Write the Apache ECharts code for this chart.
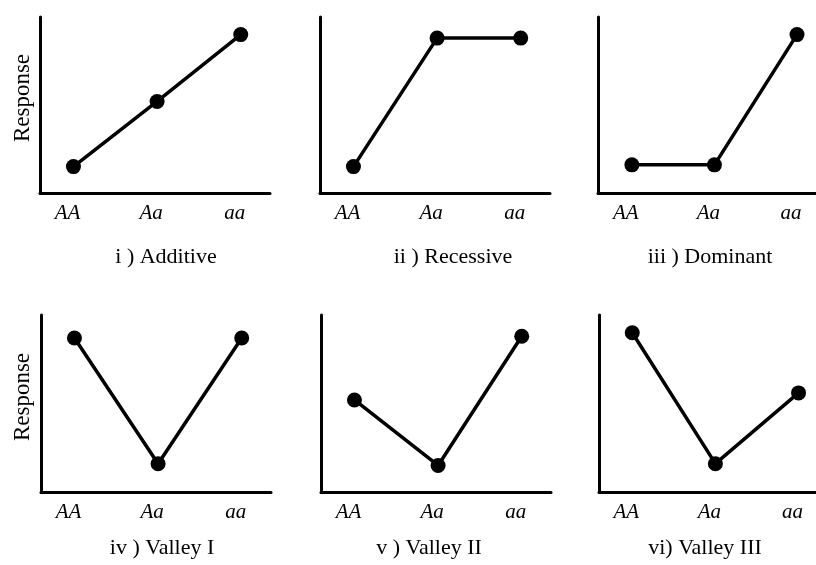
<!DOCTYPE html>
<html>
<head>
<meta charset="utf-8">
<script src="https://cdn.jsdelivr.net/npm/echarts@6/dist/echarts.min.js"></script>
<style>html,body{margin:0;padding:0;background:#fff;}#chart{width:816px;height:565px;}</style>
</head>
<body>
<div id="chart"></div>
<script>
const categories = ['AA', 'Aa', 'aa'];
const additive = [1.5, 5.2, 9.0];
const recessive = [1.5, 8.8, 8.8];
const dominant = [1.6, 1.6, 9.0];
const valleyI = [8.7, 1.6, 8.7];
const valleyII = [5.2, 1.5, 8.8];
const valleyIII = [9.0, 1.6, 5.6];
const panelTitles = ['i ) Additive', 'ii ) Recessive', 'iii ) Dominant', 'iv ) Valley I', 'v ) Valley II', 'vi) Valley III'];
const yAxisName = 'Response';

const seriesData = [additive, recessive, dominant, valleyI, valleyII, valleyIII];

// layout
const gridLefts = [40, 320, 598, 41, 321, 599];
const gridTops = [17, 17, 17, 315, 315, 315];
const gridHeights = [176, 176, 176, 177, 177, 177];
const gridWidths = [230, 230, 218, 230, 230, 217];
const xMins = [-0.4, -0.4, -0.41, -0.4, -0.4, -0.4];
const xMaxs = [2.35, 2.35, 2.23, 2.35, 2.35, 2.21];
const titleX = [166, 453, 710, 162, 429, 705];
const titleY = [257, 257, 257, 548, 548, 548];

const serif = "'Liberation Serif', 'DejaVu Serif', serif";

const grids = [], xAxes = [], yAxes = [], series = [], graphics = [];
for (let i = 0; i < 6; i++) {
  grids.push({ left: gridLefts[i], top: gridTops[i], width: gridWidths[i], height: gridHeights[i], containLabel: false });
  xAxes.push({
    type: 'value', gridIndex: i, min: xMins[i], max: xMaxs[i],
    axisLine: { show: true, onZero: false, lineStyle: { color: '#000', width: 3 } },
    axisTick: { show: false },
    splitLine: { show: false },
    axisLabel: {
      customValues: [0, 1, 2],
      formatter: v => categories[Math.round(v)] || '',
      fontFamily: serif, fontStyle: 'italic', fontSize: 21, color: '#000',
      margin: 10, padding: [0, 12, 0, 0]
    }
  });
  yAxes.push({
    type: 'value', gridIndex: i, min: 0, max: 10,
    axisLine: { show: true, onZero: false, lineStyle: { color: '#000', width: 3 } },
    axisTick: { show: false }, axisLabel: { show: false }, splitLine: { show: false }
  });
  series.push({
    type: 'line', xAxisIndex: i, yAxisIndex: i,
    data: seriesData[i].map((v, k) => [k, v]),
    symbol: 'circle', symbolSize: 15,
    lineStyle: { color: '#000', width: 3.5 },
    itemStyle: { color: '#000' },
    animation: false
  });
  graphics.push({
    type: 'text', x: titleX[i], y: titleY[i],
    style: { text: panelTitles[i], font: '22px ' + serif, fill: '#000', textAlign: 'center', textVerticalAlign: 'middle' }
  });
}
graphics.push({ type: 'text', x: 23, y: 98, rotation: Math.PI / 2,
  style: { text: yAxisName, font: '23px ' + serif, fill: '#000', textAlign: 'center', textVerticalAlign: 'middle' } });
graphics.push({ type: 'text', x: 23, y: 397, rotation: Math.PI / 2,
  style: { text: yAxisName, font: '23px ' + serif, fill: '#000', textAlign: 'center', textVerticalAlign: 'middle' } });

const chart = echarts.init(document.getElementById('chart'), null, { renderer: 'canvas' });
chart.setOption({
  backgroundColor: '#fff',
  animation: false,
  grid: grids, xAxis: xAxes, yAxis: yAxes, series: series,
  graphic: graphics
});
</script>
</body>
</html>
